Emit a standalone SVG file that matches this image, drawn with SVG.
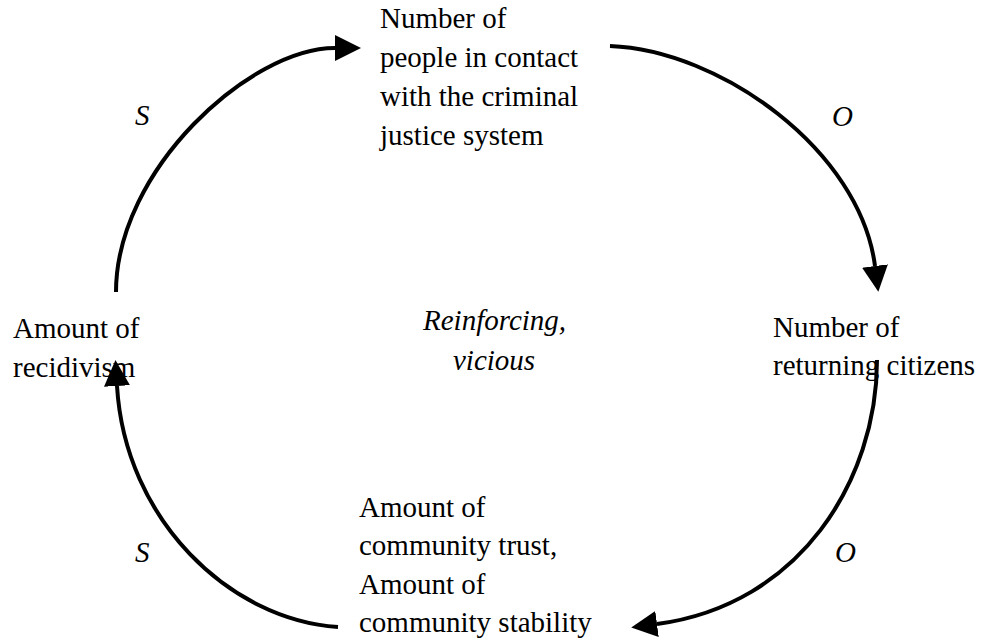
<svg xmlns="http://www.w3.org/2000/svg" width="982" height="643" viewBox="0 0 982 643">
<style>
  text { font-family: 'Liberation Serif', 'Times New Roman', 'DejaVu Serif', serif; font-size: 29px; fill: #000; }
  .i { font-style: italic; }
  .c { fill: none; stroke: #000; stroke-width: 4; }
</style>
<defs>
  <marker id="ah" markerUnits="userSpaceOnUse" markerWidth="26" markerHeight="26" viewBox="0 0 26 26" refX="0" refY="13" orient="auto">
    <path d="M0,0 L26,13 L0,26 z" fill="#000"/>
  </marker>
</defs>
<rect width="982" height="643" fill="#fff"/>
<g id="connectors">
  <path class="c" d="M116,292 C116,170 250,48 335,48" marker-end="url(#ah)"/>
  <path class="c" d="M610,46 C720,50 860,150 875,266" marker-end="url(#ah)"/>
  <path class="c" d="M877,360 C877,480 800,605 657,624" marker-end="url(#ah)"/>
  <path class="c" d="M338,627 C230,620 125,520 117,386" marker-end="url(#ah)"/>
</g>
<g id="labels" font-family="Liberation Serif, serif">
  <text class="i" x="135" y="125">S</text>
  <text class="i" x="832" y="126">O</text>
  <text class="i" x="835" y="562">O</text>
  <text class="i" x="135" y="562">S</text>
</g>
<g id="node-contact" font-family="Liberation Serif, serif">
  <text x="380" y="28">Number of</text>
  <text x="380" y="67">people in contact</text>
  <text x="380" y="106">with the criminal</text>
  <text x="380" y="145">justice system</text>
</g>
<g id="node-returning" font-family="Liberation Serif, serif">
  <text x="773" y="337">Number of</text>
  <text x="773" y="375">returning citizens</text>
</g>
<g id="node-community" font-family="Liberation Serif, serif">
  <text x="359" y="517">Amount of</text>
  <text x="359" y="555">community trust,</text>
  <text x="359" y="594">Amount of</text>
  <text x="359" y="632">community stability</text>
</g>
<g id="node-recidivism" font-family="Liberation Serif, serif">
  <text x="13" y="338">Amount of</text>
  <text x="13" y="377">recidivism</text>
</g>
<g id="center" font-family="Liberation Serif, serif">
  <text class="i" x="423" y="330">Reinforcing,</text>
  <text class="i" x="453" y="370">vicious</text>
</g>
</svg>
